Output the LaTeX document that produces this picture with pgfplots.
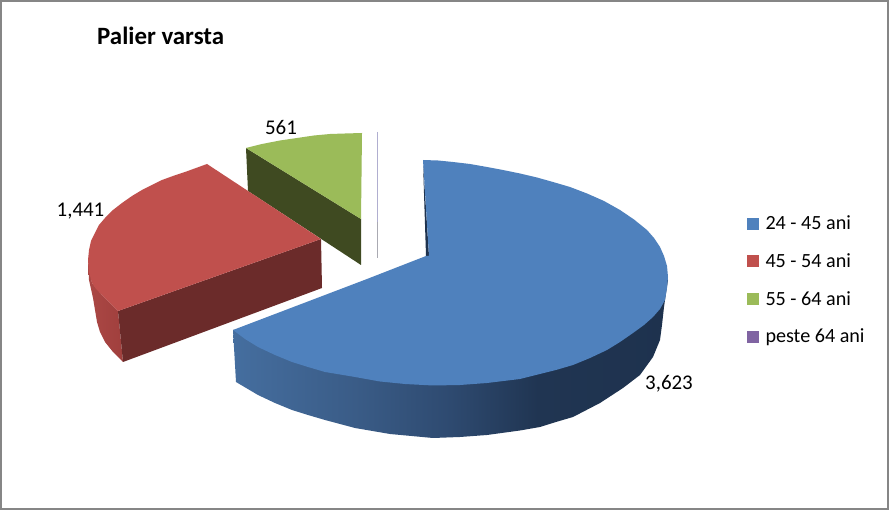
\documentclass[border=0pt]{standalone}
\usepackage{pgfplots}
\pgfplotsset{compat=1.18}
\usepackage{fontspec}
\setmainfont{Carlito}
\definecolor{bs1}{HTML}{456E9F}
\definecolor{bs2}{HTML}{3A5C87}
\definecolor{bs3}{HTML}{2E4A70}
\definecolor{bs4}{HTML}{203552}
\definecolor{bs5}{HTML}{1E324E}
\definecolor{rs1}{HTML}{AB4845}
\definecolor{rs2}{HTML}{A03F3D}
\definecolor{blueT}{HTML}{4F81BD}
\definecolor{redT}{HTML}{C0504D}
\definecolor{redF}{HTML}{6B2B2A}
\definecolor{greenT}{HTML}{9BBB59}
\definecolor{greenF}{HTML}{3F4A21}
\definecolor{purpleT}{HTML}{8064A2}
\definecolor{frameC}{HTML}{868686}
\pgfdeclarehorizontalshading{blueside}{100bp}{color(0bp)=(bs1);color(25bp)=(bs1);color(39bp)=(bs2);color(50bp)=(bs3);color(60bp)=(bs4);color(75bp)=(bs5);color(100bp)=(bs5)}
\pgfdeclarehorizontalshading{redside}{100bp}{color(0bp)=(rs1);color(25bp)=(rs1);color(75bp)=(rs2);color(100bp)=(rs2)}
\begin{document}
\begin{tikzpicture}
\begin{axis}[
  width=889bp, height=510bp, scale only axis,
  xmin=0, xmax=889, ymin=0, ymax=510, y dir=reverse,
  hide axis, no markers, clip=false,
  legend style={at={(axis cs:747,215)}, anchor=north west, draw=none, fill=none,
    font=\fontsize{20.2}{21}\selectfont, row sep=20.3bp, inner sep=0pt, outer sep=0pt,
    nodes={inner sep=1bp, anchor=west}},
  legend cell align=left,
  legend image code/.code={\fill[#1,draw=none] (0bp,-6bp) rectangle (12bp,6bp); \path[draw=none,fill=none] (0bp,0bp) -- (17.5bp,0bp);},
]
% frame
\addplot[forget plot, draw=frameC, line width=2bp, fill=white] coordinates {(1,1) (888,1) (888,509) (1,509)} --cycle;

% green slice (561)
\addplot[forget plot, draw=none, fill=greenF] coordinates {(246,148) (361,219) (361,265) (248,191)} --cycle;
\addplot[forget plot, draw=none, fill=greenT] coordinates {(361,219) (362,133) (345,133.5) (330,134) (314,135.5) (297,138) (280,140.5) (262,144) (246,148)} --cycle;

% purple sliver
\addplot[forget plot, draw={rgb,255:red,176;green,174;blue,208}, line width=1bp] coordinates {(377,132) (377,222)};
\addplot[forget plot, draw={rgb,255:red,170;green,170;blue,178}, line width=1bp] coordinates {(377,222) (377,258)};

% red slice (1,441)
\addplot[forget plot, draw=none, shade, shading=redside] coordinates {(88,260) (89,280) (93,298) (97,322) (100,332) (105,342) (113,352) (123,362) (118,311) (102,295) (92,283)} --cycle;
\addplot[forget plot, draw=none, fill=redF] coordinates {(118,311) (321,239) (322,288) (123,362)} --cycle;
\addplot[forget plot, draw=none, fill=redT] coordinates {(321,239) (207,164) (196,168) (185,172) (173,176) (162,180) (152,185) (142,190) (132,196) (122,203) (113,210) (105,218) (99,225) (95,233) (91,241) (89,250) (88,260) (89,272) (92,283) (96,289) (102,295) (110,303) (118,311)} --cycle;

% blue slice (3,623)
\addplot[forget plot, draw=none, shade, shading=blueside] coordinates {(668,280) (665,300) (664,307) (662,325) (660,340) (653,357) (640,375) (623,388) (600,403) (573,417) (556,422) (540,427) (520,430.5) (487,435) (460,437) (433,438) (390,434) (355,428) (325,420) (308,415) (292,410) (275,403) (258,395) (236,382) (233,330) (300,330) (600,300)} --cycle;
\addplot[forget plot, draw=none, fill=bs5] coordinates {(423,162) (426,256) (429,256)} --cycle;
\addplot[forget plot, draw=none, fill=blueT] coordinates {(429,256) (423,160) (438,160.5) (453,162) (470,164) (487,167) (503,170) (520,173.5) (537,177.5) (553,182) (570,187) (587,193.5) (604,201) (620,210) (634,219.5) (647,230) (654,238) (660,247) (664,256) (667,266) (668,277) (667,288) (665,300) (660,309) (653,317) (644,325) (633,333) (620,342) (607,350) (590,358) (573,365) (556,370) (540,374) (520,379) (487,383) (460,385) (433,385.5) (405,384) (380,381.5) (355,377) (325,372) (308,367) (292,362) (275,355) (258,347) (245,339) (233,330) (367,279) (426,256)} --cycle;

% legend
\addlegendimage{fill=blueT}
\addlegendentry{24 - 45 ani}
\addlegendimage{fill=redT}
\addlegendentry{45 - 54 ani}
\addlegendimage{fill=greenT}
\addlegendentry{55 - 64 ani}
\addlegendimage{fill=purpleT}
\addlegendentry{peste 64 ani}

% labels
\node[font=\fontsize{25}{26}\selectfont\bfseries, anchor=base west, inner sep=0pt] at (axis cs:97,45) {Palier varsta};
\node[font=\fontsize{21}{22}\selectfont, anchor=base, inner sep=0pt] at (axis cs:281,135) {561};
\node[font=\fontsize{21}{22}\selectfont, anchor=base, inner sep=0pt] at (axis cs:80.5,217) {1,441};
\node[font=\fontsize{21}{22}\selectfont, anchor=base, inner sep=0pt] at (axis cs:669,390) {3,623};
\end{axis}
\end{tikzpicture}
\end{document}
